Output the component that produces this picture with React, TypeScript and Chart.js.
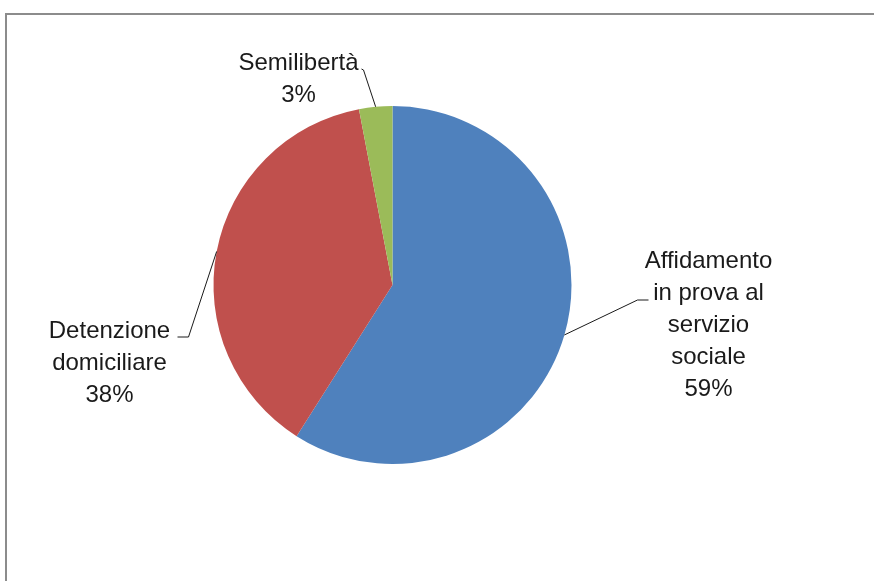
import React, { useEffect, useRef } from "react";
import { Chart, registerables } from "chart.js";

Chart.register(...registerables);

const categories = ["Affidamento in prova al servizio sociale", "Detenzione domiciliare", "Semilibertà"];
const labelLines = [
  ["Affidamento", "in prova al", "servizio", "sociale"],
  ["Detenzione", "domiciliare"],
  ["Semilibertà"],
];
const values = [59, 38, 3];
const colors = ["#4F81BD", "#C0504D", "#9BBB59"];

// label placement relative to pie centre (first line centre), and leader line elbow/end
const labelPlacement = [
  { dx: 316, dy: -24, elbow: [245, 15], end: [256, 15] },
  { dx: -283, dy: 46, elbow: [-204, 52], end: [-215, 52] },
  { dx: -94, dy: -222, elbow: [-29, -215], end: [-31, -216] },
];

const FONT = '24px "Liberation Sans", Arial, sans-serif';
const LINE_H = 32;

const framePlugin = {
  id: "frame",
  beforeDraw(chart: any) {
    const ctx = chart.ctx;
    ctx.save();
    ctx.fillStyle = "#ffffff";
    ctx.fillRect(0, 0, chart.width, chart.height);
    ctx.strokeStyle = "#8c8c8c";
    ctx.lineWidth = 2;
    ctx.beginPath();
    ctx.moveTo(6, chart.height + 5);
    ctx.lineTo(6, 14);
    ctx.lineTo(chart.width + 5, 14);
    ctx.stroke();
    ctx.restore();
  },
};

const labelPlugin = {
  id: "pieLabels",
  afterDraw(chart: any) {
    const ctx = chart.ctx;
    const meta = chart.getDatasetMeta(0);
    const total = values.reduce((a, b) => a + b, 0);
    ctx.save();
    meta.data.forEach((arc: any, i: number) => {
      const { x, y, startAngle, endAngle, outerRadius } = arc.getProps(
        ["x", "y", "startAngle", "endAngle", "outerRadius"],
        true
      );
      const mid = (startAngle + endAngle) / 2;
      const px = x + Math.cos(mid) * outerRadius;
      const py = y + Math.sin(mid) * outerRadius;
      const p = labelPlacement[i];
      ctx.strokeStyle = "#1a1a1a";
      ctx.lineWidth = 1;
      ctx.beginPath();
      ctx.moveTo(px, py);
      ctx.lineTo(x + p.elbow[0], y + p.elbow[1]);
      ctx.lineTo(x + p.end[0], y + p.end[1]);
      ctx.stroke();

      const lines = [...labelLines[i], Math.round((values[i] / total) * 100) + "%"];
      ctx.fillStyle = "#1a1a1a";
      ctx.font = FONT;
      ctx.textAlign = "center";
      ctx.textBaseline = "middle";
      lines.forEach((t, k) => {
        ctx.fillText(t, x + p.dx, y + p.dy + k * LINE_H);
      });
    });
    ctx.restore();
  },
};

export default function App() {
  const ref = useRef<HTMLCanvasElement>(null);
  useEffect(() => {
    if (!ref.current) return;
    const chart = new Chart(ref.current, {
      type: "pie",
      data: {
        labels: categories,
        datasets: [
          {
            data: values,
            backgroundColor: colors,
            borderWidth: 0,
          },
        ],
      },
      options: {
        animation: false,
        responsive: false,
        layout: { padding: { left: 213.5, right: 302.5, top: 106, bottom: 117 } },
        plugins: {
          legend: { display: false },
          tooltip: { enabled: false },
        },
      },
      plugins: [framePlugin, labelPlugin],
    });
    return () => chart.destroy();
  }, []);
  return (
    <div style={{ position: "fixed", left: 0, top: 0, width: 874, height: 581, background: "#fff" }}>
      <canvas ref={ref} width={874} height={581} style={{ width: 874, height: 581, display: "block" }} />
    </div>
  );
}
